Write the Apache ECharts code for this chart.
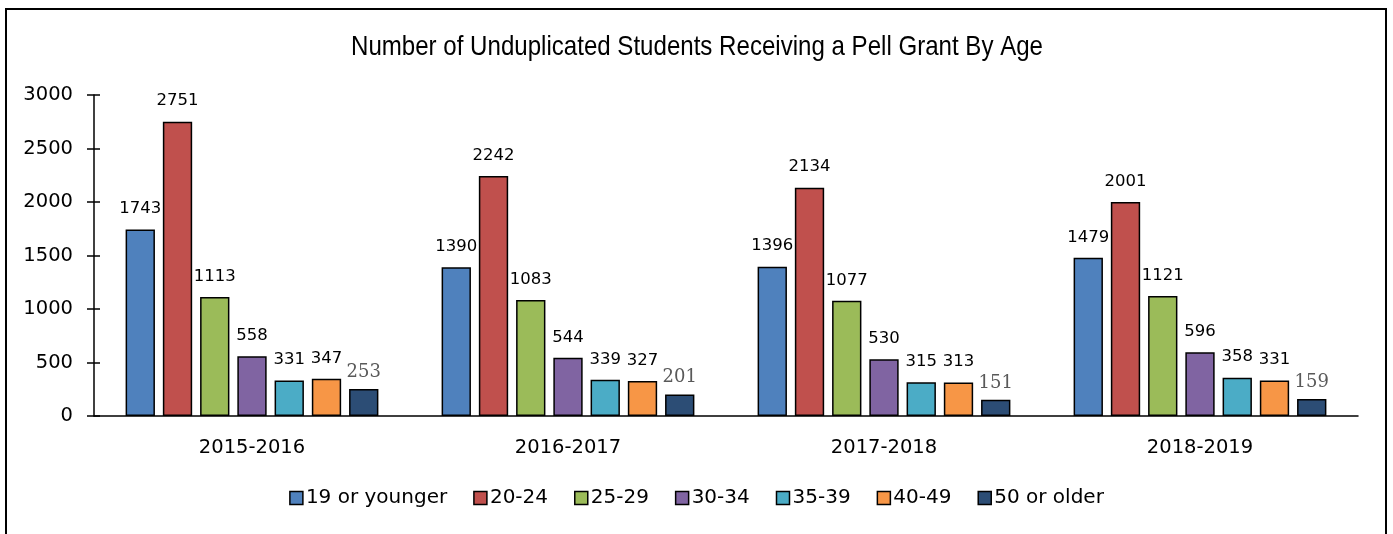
<!DOCTYPE html>
<html><head><meta charset="utf-8">
<script src="https://cdn.jsdelivr.net/npm/echarts@6/dist/echarts.min.js"></script>
<style>html,body{margin:0;padding:0;background:#fff}#c{width:1393px;height:534px}</style>
</head><body><div id="c"></div>
<script>
const title = 'Number of Unduplicated Students Receiving a Pell Grant By Age';
const categories = ['2015-2016', '2016-2017', '2017-2018', '2018-2019'];
const seriesNames = ['19 or younger', '20-24', '25-29', '30-34', '35-39', '40-49', '50 or older'];
const age19 = [1743, 1390, 1396, 1479];
const age20 = [2751, 2242, 2134, 2001];
const age25 = [1113, 1083, 1077, 1121];
const age30 = [558, 544, 530, 596];
const age35 = [331, 339, 315, 358];
const age40 = [347, 327, 313, 331];
const age50 = [253, 201, 151, 159];
const yTicks = [0, 500, 1000, 1500, 2000, 2500, 3000];
const colors = ['#4F81BD', '#C0504D', '#9BBB59', '#8064A2', '#4BACC6', '#F79646', '#2C4D75'];
const values = [age19, age20, age25, age30, age35, age40, age50];

const chart = echarts.init(document.getElementById('c'), null, {renderer: 'canvas'});
const sansFont = 'DejaVu Sans';
const series = values.map((v, i) => ({
  name: seriesNames[i],
  type: 'bar',
  data: v,
  barGap: '27%',
  barCategoryGap: '20%',
  itemStyle: {color: colors[i], borderColor: '#000', borderWidth: 1.5},
  label: i === 6 ? {
    show: true, position: 'top', distance: 8,
    fontFamily: 'DejaVu Serif', fontSize: 18, color: '#595959'
  } : {
    show: true, position: 'top', distance: 12,
    fontFamily: sansFont, fontSize: 16.5, color: '#000'
  }
}));

chart.setOption({
  animation: false,
  color: colors,
  legend: {
    data: seriesNames, bottom: 21, left: 'center',
    itemWidth: 13, itemHeight: 13, itemGap: 26,
    icon: 'rect',
    itemStyle: {borderColor: '#000', borderWidth: 1.5},
    textStyle: {fontFamily: sansFont, fontSize: 20, color: '#000', padding: [0, 0, 0, -2]}
  },
  grid: {left: 94, right: 35, top: 95, bottom: 118},
  xAxis: {
    type: 'category', data: categories,
    axisLine: {lineStyle: {color: '#000', width: 1.5}},
    axisTick: {show: false},
    axisLabel: {fontFamily: sansFont, fontSize: 19.5, color: '#000', margin: 22}
  },
  yAxis: [{
    type: 'value', min: 0, max: 3000, interval: 500,
    axisLine: {show: true, lineStyle: {color: '#000', width: 1.5}},
    axisTick: {show: true, length: 7, lineStyle: {color: '#000', width: 1.5}},
    splitLine: {show: false},
    axisLabel: {fontFamily: sansFont, fontSize: 19.5, color: '#000', margin: 21,
      formatter: v => yTicks.includes(v) ? String(v) : ''}
  }, {
    type: 'value', min: 0, max: 3000, interval: 500, position: 'left',
    axisLine: {show: false},
    axisTick: {show: true, inside: true, length: 6, lineStyle: {color: '#000', width: 1.5}},
    axisLabel: {show: false}, splitLine: {show: false}
  }],
  graphic: [{
    type: 'rect', shape: {x: 6, y: 9, width: 1380, height: 540},
    style: {fill: 'none', stroke: '#000', lineWidth: 2}, silent: true
  }, {
    type: 'text', x: 697, y: 47, scaleX: 0.86, silent: true,
    style: {text: title, fontFamily: 'Liberation Sans', fontSize: 28, fill: '#000',
      align: 'center', verticalAlign: 'middle'}
  }],
  series: series
});
</script></body></html>
